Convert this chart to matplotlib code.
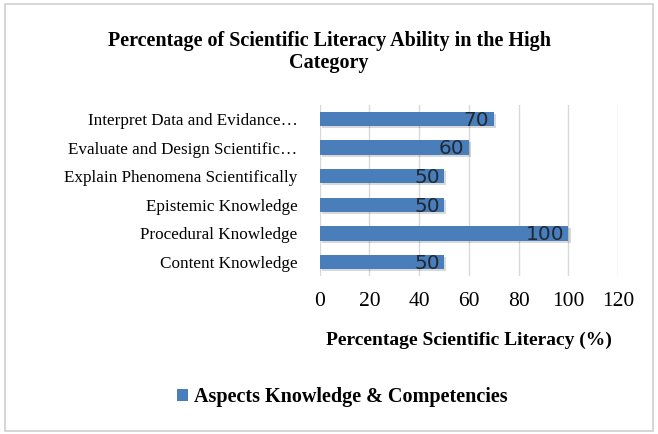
import matplotlib.pyplot as plt
from matplotlib.patches import Rectangle

categories = ["Content Knowledge", "Procedural Knowledge", "Epistemic Knowledge",
              "Explain Phenomena Scientifically", "Evaluate and Design Scientific\u2026",
              "Interpret Data and Evidance\u2026"]
values = [50, 100, 50, 50, 60, 70]
xticks = [0, 20, 40, 60, 80, 100, 120]

serif = "Liberation Serif"
bar_color = "#4a7ebb"

fig = plt.figure(figsize=(6.58, 4.34), dpi=100)
ax = fig.add_axes([0.486, 0.363, 0.453, 0.396])

# thin gray border round the chart area
fig.patches.append(Rectangle((0.008, 0.008), 0.984, 0.982, transform=fig.transFigure,
                             fill=False, edgecolor="#d0d0d0", linewidth=1.2))

pos = list(range(len(categories)))
# soft shadow under the bars
ax.barh([p - 0.07 for p in pos], values, left=1.0, height=0.5, color="#000000",
        alpha=0.15, zorder=2)
bars = ax.barh(pos, values, height=0.5, color=bar_color, zorder=3,
               label="Aspects Knowledge & Competencies")
for p, v in zip(pos, values):
    ax.annotate(str(v), (v, p), xytext=(-3, -1), textcoords="offset points",
                ha="right", va="center", fontsize=14.5, color="#1f2a36",
                family="DejaVu Sans", zorder=4)

ax.set_xlim(0, 120)
ax.set_ylim(-0.5, len(categories) - 0.5)
ax.set_xticks(xticks)
ax.set_yticks(pos)
ax.set_yticklabels(categories, family=serif, fontsize=12.3)
ax.tick_params(axis="x", labelsize=15.5, length=0, pad=11)
ax.tick_params(axis="y", length=0, pad=16)
for lab in ax.get_xticklabels():
    lab.set_family(serif)
ax.grid(axis="x", color="#d9d9d9", linewidth=1, zorder=0)
for s in ax.spines.values():
    s.set_visible(False)

ax.set_xlabel("Percentage Scientific Literacy (%)", family=serif, fontweight="bold",
              fontsize=14, labelpad=15)
fig.text(0.5, 0.905, "Percentage of Scientific Literacy Ability in the High",
         ha="center", va="center", family=serif, fontweight="bold", fontsize=14.5)
fig.text(0.5, 0.855, "Category",
         ha="center", va="center", family=serif, fontweight="bold", fontsize=14.5)

leg = fig.legend(handles=[bars], loc="center", bbox_to_anchor=(0.52, 0.085), frameon=False,
                 prop={"family": serif, "weight": "bold", "size": 14.5},
                 handlelength=0.55, handleheight=0.55, handletextpad=0.3)

fig.savefig("out.png", dpi=100)
